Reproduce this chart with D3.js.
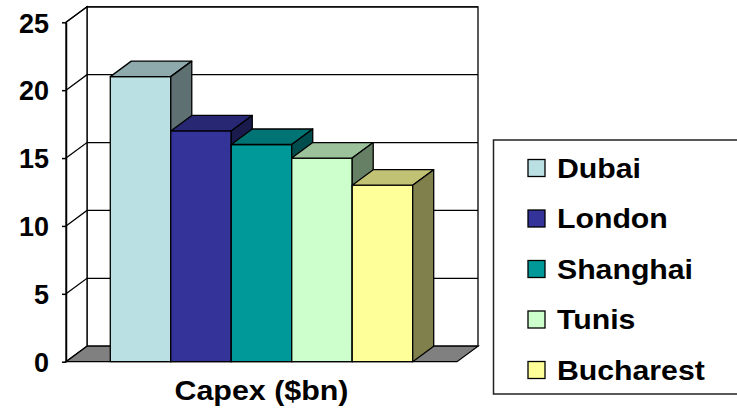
<!DOCTYPE html>
<html>
<head>
<meta charset="utf-8">
<script src="https://cdn.jsdelivr.net/npm/d3@7"></script>
<style>
  body { margin: 0; background: #fff; }
  text { font-family: "Liberation Sans", Arial, sans-serif; font-weight: bold; fill: #000; }
</style>
</head>
<body>
<script>
// chart data
var category = "Capex ($bn)";
var cities = ["Dubai", "London", "Shanghai", "Tunis", "Bucharest"];
var values = [21, 17, 16, 15, 13];
var colors = ["#BBE0E3", "#333399", "#009999", "#CCFFCC", "#FFFF99"];
var yTicks = [0, 5, 10, 15, 20, 25];

var W = 737, H = 410;
// 3d depth offset
var dx = 21, dy = -15.5;
var left = 66, right = 457;

var svg = d3.select("body").append("svg")
  .attr("width", W)
  .attr("height", H);

var y = d3.scaleLinear().domain([0, 25]).range([361.7, 22.3]);

var x0 = d3.scaleBand().domain([category]).range([left, right])
  .paddingInner(0).paddingOuter(0.1465);
var x1 = d3.scaleBand().domain(cities).range([0, x0.bandwidth()]);

function shade(c, k) {
  var r = d3.rgb(c);
  return d3.rgb(r.r * k, r.g * k, r.b * k).formatHex();
}
function poly(pts) {
  return "M" + pts.map(function(p) { return p[0] + "," + p[1]; }).join("L") + "Z";
}

var y0 = y(0), yTop = y(25);

// back wall
svg.append("path")
  .attr("d", poly([[left + dx, yTop + dy], [right + dx, yTop + dy], [right + dx, y0 + dy], [left + dx, y0 + dy]]))
  .attr("fill", "#fff").attr("stroke", "#000").attr("stroke-width", 1.3);

// left wall
svg.append("path")
  .attr("d", poly([[left, yTop], [left + dx, yTop + dy], [left + dx, y0 + dy], [left, y0]]))
  .attr("fill", "#fff").attr("stroke", "#000").attr("stroke-width", 1.3);

// gridlines on walls
var grid = svg.append("g").attr("stroke", "#000").attr("stroke-width", 1.3).attr("fill", "none");
yTicks.forEach(function(t) {
  if (t === 0) return;
  grid.append("path")
    .attr("d", "M" + left + "," + y(t) + "L" + (left + dx) + "," + (y(t) + dy) + "L" + (right + dx) + "," + (y(t) + dy));
});

// floor
svg.append("path")
  .attr("d", poly([[left, y0], [right, y0], [right + dx, y0 + dy], [left + dx, y0 + dy]]))
  .attr("fill", "#808080").attr("stroke", "#000").attr("stroke-width", 1.3);

// bars
var bars = svg.append("g").attr("stroke", "#000").attr("stroke-width", 1.3).attr("stroke-linejoin", "round");
cities.forEach(function(c, i) {
  var xa = x0(category) + x1(c), xb = xa + x1.bandwidth();
  var yv = y(values[i]);
  var g = bars.append("g");
  g.append("path").attr("d", poly([[xa, y0], [xb, y0], [xb, yv], [xa, yv]]))
    .attr("fill", colors[i]);
  g.append("path").attr("d", poly([[xa, yv], [xb, yv], [xb + dx, yv + dy], [xa + dx, yv + dy]]))
    .attr("fill", shade(colors[i], 0.76));
  g.append("path").attr("d", poly([[xb, y0], [xb + dx, y0 + dy], [xb + dx, yv + dy], [xb, yv]]))
    .attr("fill", shade(colors[i], 0.5));
});

// y axis
var yAxis = svg.append("g")
  .attr("transform", "translate(" + left + ",0)")
  .call(d3.axisLeft(y).tickValues(yTicks).tickSize(4).tickSizeOuter(0).tickPadding(13));
yAxis.select(".domain").attr("stroke", "#000").attr("stroke-width", 1.5);
yAxis.selectAll(".tick line").attr("stroke", "#000").attr("stroke-width", 1.5);
yAxis.selectAll(".tick text")
  .style("font-size", "27px")
  .style("font-family", "'Liberation Sans', Arial, sans-serif")
  .style("font-weight", "bold")
  .attr("fill", "#000")
  .attr("dy", "0.36em");

// category label
svg.append("text")
  .attr("x", x0(category) + x0.bandwidth() / 2)
  .attr("y", 400)
  .attr("text-anchor", "middle")
  .style("font-size", "28px")
  .attr("textLength", 174)
  .attr("lengthAdjust", "spacingAndGlyphs")
  .text(category);

// legend
var legend = svg.append("g");
legend.append("rect")
  .attr("x", 493.5).attr("y", 140)
  .attr("width", 260).attr("height", 254)
  .attr("fill", "#fff").attr("stroke", "#222").attr("stroke-width", 1.5);

var rows = legend.selectAll("g.row").data(cities).enter().append("g")
  .attr("class", "row")
  .attr("transform", function(d, i) { return "translate(0," + (168 + i * 50.5) + ")"; });
rows.append("rect")
  .attr("x", 528).attr("y", -8.5).attr("width", 17).attr("height", 17)
  .attr("fill", function(d, i) { return colors[i]; })
  .attr("stroke", "#000").attr("stroke-width", 1.3);
rows.append("text")
  .attr("x", 557).attr("y", 9.8)
  .style("font-size", "28px")
  .attr("transform", "translate(557,0) scale(1.08,1) translate(-557,0)")
  .text(function(d) { return d; });
</script>
</body>
</html>
